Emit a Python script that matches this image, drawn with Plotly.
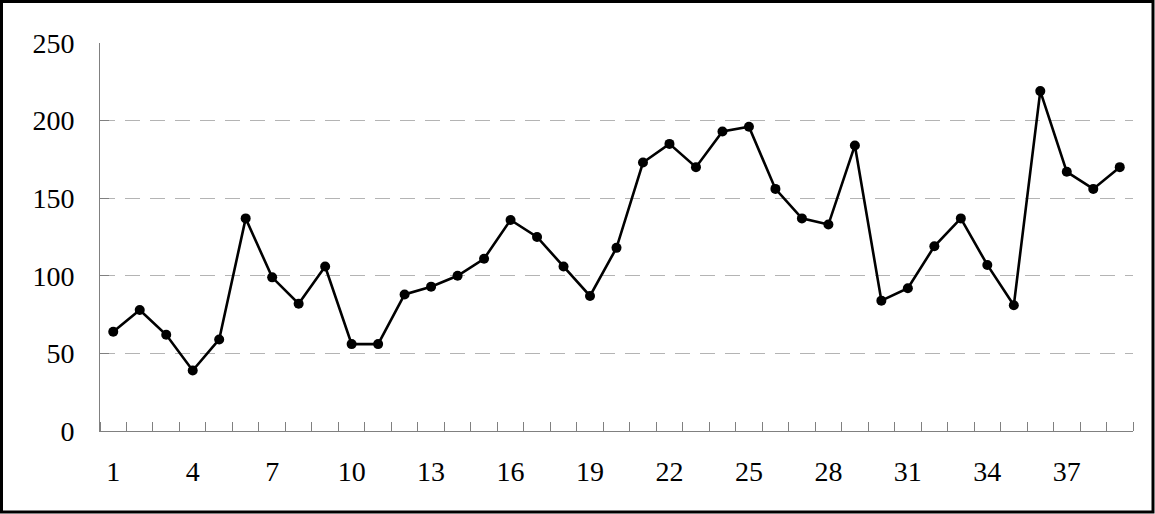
import plotly.graph_objects as go

categories = list(range(1, 40))
values = [64, 78, 62, 39, 59, 137, 99, 82, 106, 56, 56, 88, 93, 100, 111, 136, 125, 106, 87, 118,
          173, 185, 170, 193, 196, 156, 137, 133, 184, 84, 92, 119, 137, 107, 81, 219, 167, 156, 170]
x_labels = list(range(1, 40, 3))
y_ticks = [0, 50, 100, 150, 200, 250]

W, H = 1155, 514
L, R, T, B = 100, 22, 43, 83
pw, ph = W - L - R, H - T - B

font = dict(family="Liberation Serif", size=28, color="#000000")

fig = go.Figure()
fig.add_trace(go.Scatter(
    x=categories, y=values, mode="lines+markers",
    line=dict(color="#000000", width=2.6),
    marker=dict(color="#000000", size=10),
    showlegend=False, hoverinfo="skip",
))

def px_x(p):
    return (p - L) / pw

def px_y(p):
    return (H - B - p) / ph

fig.add_shape(type="rect", xref="paper", yref="paper",
              x0=px_x(1.5), x1=px_x(1153), y0=px_y(512), y1=px_y(1.5),
              line=dict(color="#000000", width=3), layer="above")

fig.update_layout(
    width=W, height=H,
    margin=dict(l=L, r=R, t=T, b=B),
    paper_bgcolor="#ffffff", plot_bgcolor="#ffffff",
    font=font,
    xaxis=dict(
        range=[0.5, 39.5], tickmode="array", tickvals=x_labels,
        ticktext=[str(v) for v in x_labels],
        ticks="", showgrid=False, zeroline=False,
        showline=True, linecolor="#808080", linewidth=1,
        ticklabelstandoff=15,
        minor=dict(tickmode="linear", tick0=0.5, dtick=1, ticks="inside",
                   ticklen=9, tickcolor="#808080", tickwidth=1, showgrid=False),
    ),
    yaxis=dict(
        range=[0, 250], tickmode="array", tickvals=y_ticks,
        ticks="inside", ticklen=9, tickcolor="#808080", tickwidth=1,
        showgrid=True, gridcolor="#b4b4b4", gridwidth=1, griddash="15px,10px",
        zeroline=False, showline=True, linecolor="#808080", linewidth=1,
        ticklabelstandoff=19,
    ),
)

fig.write_html("out.html", config={"displayModeBar": False},
               post_script="document.body.style.margin='0';document.body.style.padding='0';")
